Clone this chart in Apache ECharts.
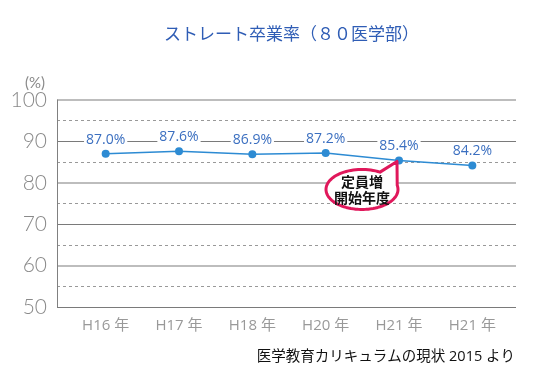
<!DOCTYPE html>
<html><head><meta charset="utf-8">
<script src="https://cdn.jsdelivr.net/npm/echarts@6/dist/echarts.min.js"></script>
<style>html,body{margin:0;padding:0;background:#fff}#c{width:550px;height:391px}</style>
</head><body><div id="c"></div>
<script>
const titleText = 'ストレート卒業率（８０医学部）';
const categories = ['H16 年', 'H17 年', 'H18 年', 'H20 年', 'H21 年', 'H21 年'];
const rates = [87.0, 87.6, 86.9, 87.2, 85.4, 84.2];
const yTicks = [50, 60, 70, 80, 90, 100];
const calloutIndex = 4;
const calloutText = '定員増\n開始年度';
const sourceText = '医学教育カリキュラムの現状 2015 より';
const unitText = '(%)';

const chart = echarts.init(document.getElementById('c'), null, {renderer: 'canvas'});
const yMin = yTicks[0], yMax = yTicks[yTicks.length - 1], yStep = yTicks[1] - yTicks[0];
const jp = '"Noto Sans CJK JP", "Noto Sans", sans-serif';

chart.setOption({
  animation: false,
  backgroundColor: '#fff',
  title: {
    text: titleText, left: 159, top: 20,
    textStyle: {color: '#2f5db5', fontSize: 17, fontWeight: 'normal', fontFamily: jp}
  },
  grid: [
    {left: 57, right: 34, top: 100, bottom: 84},
    {left: 69, right: 41, top: 100, bottom: 84}
  ],
  xAxis: [
    {gridIndex: 0, type: 'value', show: false, min: 0, max: 1},
    {gridIndex: 1, type: 'category', data: categories, boundaryGap: true,
     axisLine: {show: false}, axisTick: {show: false},
     axisLabel: {color: '#999', fontSize: 15, margin: 11, fontFamily: '"Open Sans", "Noto Sans CJK JP", sans-serif'}}
  ],
  yAxis: [
    {gridIndex: 0, type: 'value', min: yMin, max: yMax, interval: yStep,
     axisLine: {show: true, lineStyle: {color: '#808080', width: 1}},
     axisTick: {show: false},
     axisLabel: {color: '#8a8a8a', fontSize: 21, fontFamily: 'Lato, sans-serif', fontWeight: 300, margin: 10},
     splitLine: {show: true, showMinLine: true, showMaxLine: true,
       lineStyle: {color: ['rgba(0,0,0,0)', '#bdbdbd', 'rgba(0,0,0,0)', '#bdbdbd', 'rgba(0,0,0,0)', '#bdbdbd'], width: 2}},
     minorTick: {show: false, splitNumber: 2},
     minorSplitLine: {show: true, lineStyle: {color: '#999', type: [3, 3], width: 1}}
    },
    {gridIndex: 0, type: 'value', min: yMin, max: yMax, interval: yStep, position: 'left',
     axisLine: {show: false}, axisTick: {show: false}, axisLabel: {show: false},
     splitLine: {show: true, showMinLine: true, showMaxLine: true,
       lineStyle: {color: ['#7a7a7a', 'rgba(0,0,0,0)', '#7a7a7a', 'rgba(0,0,0,0)', '#7a7a7a', 'rgba(0,0,0,0)'], width: 1}}
    },
    {gridIndex: 1, type: 'value', min: yMin, max: yMax, show: false}
  ],
  series: [{
    type: 'line', xAxisIndex: 1, yAxisIndex: 2, data: rates,
    symbol: 'circle', symbolSize: 8,
    lineStyle: {color: '#2d8bd3', width: 1.5},
    itemStyle: {color: '#2d8bd3'},
    label: {show: true, position: 'top', distance: 3,
      formatter: p => p.value.toFixed(1) + '%',
      color: '#3b6fc0', fontSize: 14, fontFamily: '"Open Sans", sans-serif',
      backgroundColor: '#fff', padding: [0, 2]}
  }]
});

const pt = chart.convertToPixel({xAxisIndex: 1, yAxisIndex: 2}, [calloutIndex, rates[calloutIndex]]);
// bubble outline (ellipse + pointer), relative to the callout point
const cx = -37, cy = 29, rx = 36, ry = 20;
const pts = [];
const aStart = -12, aEnd = 360 - 58;
for (let a = aStart; a <= aEnd; a += 4) {
  const r = a * Math.PI / 180;
  pts.push([cx + rx * Math.cos(r), cy + ry * Math.sin(r)]);
}
pts.push([-2, 1]);

chart.setOption({
  graphic: [
    {type: 'polygon', x: pt[0], y: pt[1], shape: {points: pts},
     style: {fill: '#fff', stroke: '#e0185b', lineWidth: 3, lineJoin: 'round'}, z: 100},
    {type: 'text', x: pt[0] + cx, y: pt[1] + cy, z: 101,
     style: {text: calloutText, fill: '#111', font: 'bold 14px ' + jp, align: 'center', verticalAlign: 'middle', lineHeight: 16}},
    {type: 'text', x: 45, y: 83, z: 10,
     style: {text: unitText, fill: '#8a8a8a', font: '15px Lato, sans-serif', align: 'right', verticalAlign: 'middle'}},
    {type: 'text', x: 515, y: 357, z: 10,
     style: {text: sourceText, fill: '#111', font: '14.5px "Open Sans", "Noto Sans CJK JP", sans-serif', align: 'right', verticalAlign: 'middle'}}
  ]
});
</script></body></html>
